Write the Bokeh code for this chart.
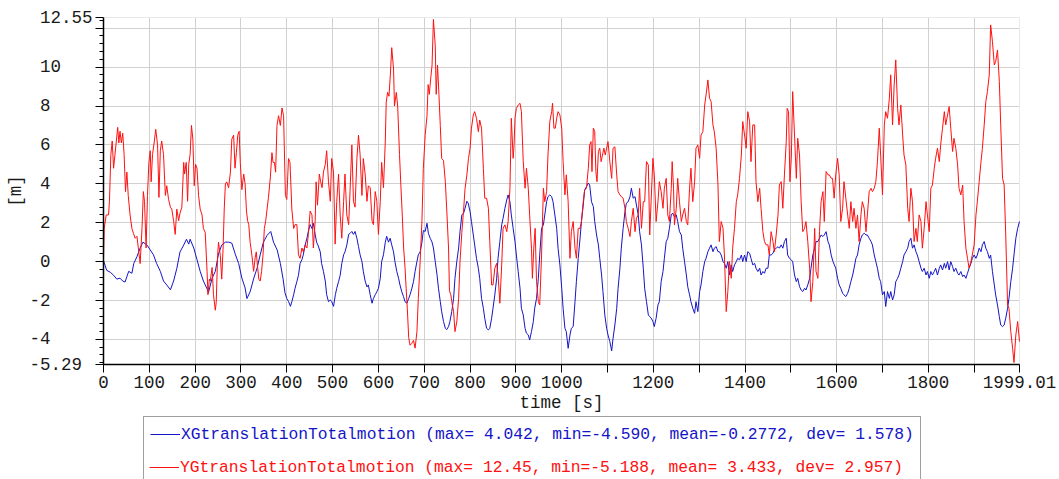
from bokeh.plotting import figure
from bokeh.models import Range1d, FixedTicker, Legend, LegendItem, BoxAnnotation
from bokeh.embed import file_html
from bokeh.resources import INLINE

# ---------------- data ----------------
x_time = [0, 7, 15, 22, 29, 36, 42, 47, 55, 62, 66, 73, 80, 86, 95, 102, 109, 116, 124, 131, 138, 146, 153, 160,
          167, 175, 181, 186, 189, 197, 204, 211, 218, 226, 229, 237, 244, 251, 258, 266, 273, 280, 288, 295,
          302, 309, 313, 320, 328, 335, 342, 349, 357, 365, 371, 379, 386, 392, 396,
          400, 404, 408, 411, 415, 418, 422, 425.5, 429, 433, 436, 440, 444, 447, 451, 455, 458, 462, 465, 468,
          473, 476, 480, 484, 487, 491, 495, 498, 502, 506, 509, 513, 516.5, 520, 524, 527, 531, 535, 538, 542,
          545.5, 549, 553, 556.5, 560, 564, 567, 571, 575, 578, 582, 586, 589, 593, 596.5, 600, 604, 607, 611,
          615, 618, 622, 625.6, 629, 633, 636, 640, 644, 647, 651, 654.7, 658, 662, 666, 669, 673, 676.5, 680,
          684, 687, 691, 695, 698, 702, 706, 709, 713, 717, 720, 724, 728, 731, 735, 738, 742, 746, 749, 753,
          756, 760, 764, 767, 771, 775, 778, 782, 786, 789, 793,
          796, 800, 803, 807, 810, 814, 818, 821, 825, 829, 832, 836, 840, 843, 847, 850, 854, 858, 861, 865,
          869, 872, 876, 880, 883, 887, 890, 894, 898, 901, 905, 909, 912, 916, 920, 923, 927, 930, 934, 938,
          941, 945, 949, 952, 956, 960, 963, 967, 970, 974, 978, 981, 985, 989, 992, 996, 1000, 1003, 1007,
          1010, 1014, 1018, 1021, 1025, 1029, 1032, 1036, 1040, 1043, 1047, 1050, 1054, 1058, 1061, 1065, 1069,
          1072, 1076, 1080, 1083, 1087, 1090, 1094, 1098, 1101, 1105, 1109, 1112, 1116, 1120, 1123, 1127, 1130,
          1134, 1138, 1141, 1145, 1149, 1152, 1156, 1160, 1163, 1167, 1170, 1174, 1178, 1181, 1185, 1189,
          1192, 1195, 1199, 1202, 1206, 1210, 1213, 1217, 1221, 1224, 1228, 1231.5, 1235, 1239, 1242, 1246,
          1250, 1253, 1257, 1261, 1264, 1268, 1272, 1275, 1279, 1282, 1286, 1290, 1293, 1297, 1301, 1304,
          1308, 1312, 1315, 1319, 1322.5, 1326, 1330, 1333, 1337, 1341, 1344, 1348, 1352, 1355, 1359, 1362.5,
          1366, 1370, 1373, 1377, 1381, 1384, 1388, 1392, 1395, 1399, 1402.5, 1406, 1410, 1413, 1417, 1421,
          1424, 1428, 1432, 1435, 1439, 1442.5, 1446, 1450, 1453, 1457, 1461, 1464, 1468, 1472, 1475, 1479,
          1482.5, 1486, 1490, 1493, 1497, 1501, 1504, 1508, 1512, 1515, 1519, 1522.5, 1526, 1530, 1533, 1537,
          1541, 1544, 1548, 1552, 1555, 1559, 1562.5, 1566, 1570, 1573, 1577, 1581, 1584, 1588, 1592, 1595,
          1598, 1602, 1605.5, 1609, 1613, 1616, 1620, 1624, 1627.5, 1631, 1635, 1638, 1642, 1645.5, 1649,
          1653, 1656, 1660, 1664, 1667, 1671, 1675, 1678, 1682, 1685.5, 1689, 1693, 1696, 1700, 1704, 1707,
          1711, 1715, 1718, 1722, 1725.5, 1729, 1733, 1736, 1740, 1744, 1747, 1751, 1755, 1758, 1762, 1765.5,
          1769, 1773, 1776, 1780, 1784, 1787, 1791, 1795, 1798, 1802, 1805.5, 1809, 1813, 1816, 1820, 1824,
          1827, 1831, 1835, 1838, 1842, 1845.5, 1849, 1853, 1856, 1860, 1864, 1867, 1871, 1875, 1878, 1882,
          1885.5, 1889, 1893, 1896, 1900, 1904, 1907, 1911, 1915, 1918, 1922, 1925.5, 1929, 1933, 1936, 1940,
          1944, 1947, 1951, 1955, 1958, 1962, 1965.5, 1969, 1973, 1976, 1980, 1984, 1987, 1991, 1995, 1999]
x_motion = [0.05, -0.45, -0.55, -0.7, -0.9, -0.85, -1.0, -1.05, -0.5, -0.6, -0.1, 0.25, 0.7, 1.0, 0.85, 0.6, 0.35,
            -0.1, -0.5, -1.0, -1.2, -1.45, -1.0, -0.35, 0.5, 0.85, 1.15, 0.9, 1.15, 0.7, 0.1, -0.5, -1.0, -1.4,
            -1.6, -0.85, -0.5, 0.4, 0.85, 1.0, 1.0, 0.95, 0.35, -0.1, -0.85, -1.35, -1.9, -1.55, -0.85, -0.35,
            0.35, 1.0, 1.35, 1.55, 1.0, 0.6, -0.1, -0.9, -1.6,
            -1.9, -2.06, -2.3, -2.06, -1.7, -1.37, -1.03, -0.7, -0.1, 0.1, 0.35, 0.85, 1.2, 1.55, 1.9, 1.7, 1.97,
            1.4, 1.0, 0.85, 0.5, -0.1, -0.5, -1.0, -1.7, -2.06, -1.97, -2.06, -2.3, -1.7, -1.37, -1.03, -0.7,
            -0.1, 0.35, 0.5, 0.85, 1.4, 1.45, 1.55, 1.4, 1.55, 1.2, 0.77, 0.35, 0.0, -0.5, -1.0, -1.3, -1.2,
            -1.7, -2.14, -1.9, -1.7, -1.55, -1.37, -0.86, 0.0, 0.35, 1.0, 1.3, 1.0, 1.2, 0.86, 0.5, 0.0, -0.5,
            -0.86, -1.2, -1.55, -1.8, -2.06, -2.14, -1.9, -1.7, -1.37, -1.03, -0.5, 0.0, 0.35, 0.5, 1.0, 1.6,
            1.55, 1.97, 1.46, 1.2, 1.0, 0.7, 0.0, -0.7, -1.37, -2.06, -2.57, -3.08, -3.43, -3.5, -3.34, -3.08,
            -2.57, -1.9, -0.86, 0.0, 0.7, 1.54, 2.4, 2.5, 2.74, 3.1,
            3.0, 2.57, 2.06, 1.37, 0.86, 0.17, -0.34, -0.86, -1.89, -2.4, -2.91, -3.43, -3.51, -3.43, -2.91,
            -2.4, -1.71, -0.86, 0.17, 1.03, 1.89, 2.23, 2.74, 3.17, 3.43, 3.08, 2.4, 1.71, 1.03, 0.34, -0.51,
            -1.37, -2.4, -2.74, -3.43, -3.68, -3.77, -4.03, -3.6, -3.08, -2.4, -1.89, -0.86, 0.34, 1.71, 1.89,
            2.4, 3.08, 3.34, 3.43, 3.34, 3.08, 2.4, 1.71, 0.69, -0.17, -1.37, -2.4, -3.43, -3.6, -4.46, -3.77,
            -3.43, -3.34, -2.06, -1.03, 0.17, 1.2, 2.06, 2.91, 3.68, 3.85, 4.04, 3.94, 3.08, 2.83, 2.06, 1.37,
            0.86, 0.17, -0.69, -1.54, -2.74, -3.43, -3.77, -4.11, -4.59, -3.94, -3.26, -2.4, -1.37, -0.34, 0.69,
            1.71, 2.57, 3.0, 3.08, 3.34, 3.77, 3.26, 3.34, 2.91, 2.4, 1.54, 0.86, -0.34, -1.37, -2.06, -2.74,
            -2.83, -2.9, -3.08, -3.34, -2.91, -2.23, -2.06, -1.03, -0.51, 0.17, 1.03, 1.2, 1.71, 2.4, 2.49, 2.31,
            2.4, 2.06, 1.54, 1.37, 0.69, 0.0, -0.69, -1.29, -1.71, -2.06, -2.4, -2.66, -2.06, -2.57, -1.54, -1.2,
            -0.51, 0.0, 0.17, 0.51, 0.69, 0.86, 0.51, 0.69, 0.77, 0.51, 0.51, 0.34, 0.0, -0.09, -0.34, 0.0,
            -0.69, -0.17, -0.51, -0.17, 0.0, 0.17, 0.09, 0.34, 0.0, 0.34, 0.0, 0.51, 0.43, 0.17, -0.17, -0.09,
            -0.34, -0.51, -0.34, -0.69, -0.51, -0.6, -0.34, -0.34, 0.34, 0.34, 0.43, 0.6, 0.69, 0.77, 0.69, 0.86,
            0.69, 1.03, 1.2, 0.34, 0.17, 0.09, 0.0, -0.69, -1.03, -0.86, -1.29, -1.46, -1.54, -1.37, -1.46, -1.2,
            -0.86, -0.34, 0.34, 0.69, 1.03, 1.03, 1.2, 1.37, 1.29, 1.37, 1.54, 1.03, 0.86, 0.34, 0.0, -0.17,
            -0.34, -0.86, -1.2, -1.37, -1.63, -1.71, -1.8, -1.63, -1.37, -1.03, -0.69, -0.34, 0.17, 0.34, 0.86,
            1.2, 1.37, 1.46, 1.37, 1.37, 1.2, 1.03, 0.86, 0.34, 0.0, -0.34, -0.86, -1.03, -1.71, -1.54, -2.31,
            -1.54, -1.89, -1.54, -1.97, -1.71, -1.03, -0.86, -0.69, -0.34, 0.0, 0.34, 0.51, 0.69, 1.03, 1.2,
            0.69, 0.86, 0.51, 0.34, 0.0, -0.34, -0.51, -0.34, -0.69, -0.51, -0.86, -0.51, -0.69, -0.51, -0.34,
            -0.69, -0.34, -0.17, -0.43, -0.09, -0.34, 0.0, -0.43, 0.0, -0.26, -0.51, -0.34, -0.6, -0.69, -0.51,
            -0.77, -0.69, -0.86, -0.6, -0.34, -0.09, 0.17, 0.34, 0.17, 0.34, 0.69, 0.51, 0.86, 1.03, 0.69, 0.51,
            0.17, 0.34, -0.51, -1.2, -1.71, -2.23, -2.83, -3.26, -3.34, -3.26, -2.91, -2.4, -1.89, -1.03, -0.34,
            0.34, 1.2, 1.71, 2.06]

y_time = [0, 1.5, 6, 11, 13, 16, 19, 22, 25, 28, 31, 33.5, 36, 39, 42, 45, 48, 51, 54, 58, 62, 65.5, 69, 73, 76,
          80, 84, 87, 89.5, 93, 96, 99, 102, 104, 107, 111, 114, 118, 121, 124, 127, 131, 135, 138, 142, 146,
          149, 153, 156.5, 160, 164, 167, 171, 175, 177, 180.5, 183.5, 186, 189, 192, 195, 198, 201, 204, 207.5,
          211, 215, 218, 222, 226, 228, 231, 233, 237, 240, 244, 246, 249, 251, 255, 258, 261, 263.5, 266, 269,
          273, 277, 280, 284, 287, 290, 293, 296, 298.5, 302, 306, 309, 312, 314.5, 317, 320, 324, 327.6, 331,
          333.4, 336, 339, 342, 345, 348, 351, 354, 357, 360, 364, 367.6, 370, 373, 375.6, 378.6, 382, 386,
          389.5, 393, 397,
          400, 403.7, 407, 411, 415, 418, 422, 425.5, 429, 433, 436, 440, 444, 447, 451, 455, 458, 462, 464,
          467, 471, 474, 477, 480, 484, 487, 491, 495, 498, 502, 505.5, 509, 513, 516.5, 520, 524, 527, 531,
          535, 538, 542, 545.5, 549, 553, 556.5, 560, 564, 567, 571, 575, 578, 582, 586, 589, 593, 596.5, 600,
          604, 607, 611, 615, 617, 620, 623, 626, 629, 633, 635, 639, 642, 646, 649, 652, 655, 658, 660.5, 663,
          666, 669, 673, 676.5, 680, 684, 687, 691, 695, 698, 702, 706, 708.5, 711, 714, 717, 720, 724, 726,
          729, 732, 735, 738, 742, 746, 749, 753, 755, 758, 761, 764, 767, 771, 775, 778, 782, 786, 789, 793,
          796.5,
          800, 803, 807, 810, 814, 818, 821, 825, 829, 832, 836, 840, 843, 847, 850, 854, 858, 861, 865, 869,
          872, 876, 880, 883, 887, 890, 894, 896, 898, 901, 905, 909, 912, 916, 920, 923, 927, 930, 934, 936,
          939, 942, 945, 949, 952, 956, 960, 963, 967, 970, 974, 978, 980, 983, 986, 989, 992, 996, 1000, 1003,
          1007, 1010, 1014, 1018, 1021, 1025, 1029, 1032, 1036, 1040, 1043, 1047, 1050, 1054, 1058, 1061, 1064,
          1066, 1069, 1072, 1074.5, 1077, 1080, 1083, 1086, 1089, 1092, 1095, 1098, 1101, 1105, 1109, 1112,
          1116, 1120, 1123, 1127, 1130, 1134, 1138, 1141, 1145, 1149, 1152, 1156, 1160, 1163, 1167, 1170, 1174,
          1178, 1181, 1185, 1189,
          1192, 1195, 1199, 1202, 1206, 1210, 1213, 1217, 1221, 1224, 1228, 1231.5, 1235, 1239, 1241, 1244,
          1246, 1250, 1253, 1257, 1261, 1264, 1268, 1272, 1275, 1279, 1282, 1286, 1290, 1293, 1297, 1301, 1304,
          1308, 1312, 1315, 1319, 1322.5, 1326, 1330, 1333, 1337, 1341, 1344, 1348, 1352, 1355, 1359, 1362.5,
          1366, 1370, 1373, 1377, 1381, 1384, 1388, 1392, 1395, 1399, 1402.5, 1406, 1410, 1413, 1417, 1421,
          1424, 1428, 1432, 1435, 1439, 1442.5, 1446, 1450, 1453, 1457, 1461, 1464, 1468, 1472, 1475, 1479,
          1482.5, 1486, 1490, 1492, 1495, 1498, 1501, 1504, 1508, 1512, 1515, 1519, 1522.5, 1526, 1530, 1533,
          1537, 1541, 1544, 1548, 1552, 1555, 1559, 1562.5, 1566, 1570, 1573, 1577, 1581, 1584, 1588,
          1591, 1594.5, 1598, 1602, 1605.5, 1609, 1613, 1616, 1620, 1624, 1627.5, 1631, 1635, 1638, 1642,
          1645.5, 1649, 1653, 1656, 1660, 1664, 1667, 1671, 1675, 1678, 1682, 1685.5, 1689, 1693, 1696, 1700,
          1704, 1707, 1711, 1715, 1718, 1722, 1725.5, 1729, 1733, 1736, 1740, 1744, 1747, 1751, 1755, 1758,
          1762, 1765.5, 1769, 1773, 1776, 1780, 1784, 1787, 1791, 1795, 1798, 1802, 1805.5, 1809, 1813, 1816,
          1820, 1824, 1827, 1831, 1835, 1838, 1842, 1845.5, 1849, 1853, 1856, 1860, 1864, 1867, 1871, 1875,
          1878, 1882, 1885.5, 1889, 1893, 1896, 1900, 1904, 1907, 1911, 1915, 1918, 1922, 1925.5, 1929, 1933,
          1936, 1940, 1944, 1947, 1951, 1955, 1958, 1962, 1965.5, 1969, 1973, 1976, 1980, 1984, 1987, 1991,
          1995, 1999]
y_motion = [0.2, 1.7, 2.4, 2.4, 3.1, 5.5, 6.2, 4.8, 5.5, 6.2, 6.9, 6.1, 6.7, 6.1, 6.6, 5.5, 3.6, 4.6, 3.4, 2.4,
            1.7, 1.45, 1.2, 1.3, 0.7, -0.1, 1.7, 3.6, 3.1, 0.7, 3.4, 5.1, 5.7, 4.1, 5.5, 6.2, 6.8, 6.0, 3.3, 5.7,
            6.2, 5.5, 3.4, 3.9, 3.2, 2.8, 2.7, 2.1, 1.4, 2.7, 2.1, 2.5, 2.8, 5.1, 4.5, 5.1, 3.1, 5.0, 5.5, 7.0,
            6.3, 3.9, 5.0, 4.8, 3.4, 2.7, 2.4, 1.7, 1.5, -0.5, -1.7, -0.9, -1.0, -0.3, -1.7, -2.5, -2.1, 0.3, 1.0,
            0.3, -0.9, 0.7, 2.7, 4.0, 4.1, 3.8, 4.6, 6.3, 6.5, 4.8, 5.6, 6.5, 6.7, 5.1, 3.7, 4.5, 4.0, 2.6, 2.1,
            1.9, 1.0, 0.3, -0.5, 0.2, 0.5, -0.2, -0.9, -1.0, -0.5, 0.3, 1.7, 2.1, 2.7, 3.3, 4.3, 5.6, 5.1, 5.1,
            4.6, 7.0, 7.5, 7.0, 7.9, 7.5, 3.4,
            3.2, 5.3, 5.1, 2.7, 1.7, 1.9, 1.9, 0.35, 0.17, 0.7, 0.5, 0.85, 0.7, 1.4, 2.6, 2.4, 0.7, 2.1, 4.1,
            2.9, 4.5, 4.1, 3.8, 4.6, 5.0, 5.7, 4.1, 3.1, 5.3, 4.6, 0.9, 3.1, 4.5, 2.4, 1.2, 3.1, 4.5, 2.4, 1.9,
            3.6, 6.0, 3.1, 2.8, 5.3, 6.5, 5.5, 3.4, 5.3, 4.5, 3.1, 3.9, 3.8, 2.1, 1.9, 3.6, 3.1, 1.4, 3.1, 5.1,
            3.8, 6.2, 8.2, 8.7, 8.5, 9.6, 11.0, 9.9, 8.0, 8.7, 8.0, 5.5, 3.9, 2.4, 0.7, -0.3, -1.4, -2.4, -3.9,
            -4.3, -4.2, -4.05, -4.45, -3.6, -1.9, 0.0, 2.1, 4.8, 6.5, 7.5, 9.1, 8.6, 9.4, 10.1, 12.45, 11.1, 8.6,
            10.1, 8.6, 7.0, 5.3, 5.2, 4.1, 2.7, 0.7, -1.5, -1.7, -2.2, -2.55, -3.6, -3.1, -1.9, 0.0, 1.5, 2.7,
            3.75, 4.45, 5.3,
            5.83, 6.86, 7.54, 7.71, 7.37, 6.68, 7.28, 6.86, 4.8, 3.26, 3.26, 2.74, 1.03, -1.2, -1.2, -0.34,
            -0.09, -0.69, -2.14, -0.17, 1.71, 1.89, 1.54, 2.06, 3.77, 7.37, 5.31, 6.0, 7.37, 7.88, 8.05, 8.14,
            7.71, 5.14, 3.77, 4.8, 3.77, 2.4, 0.69, -0.86, 0.69, 1.71, -1.03, -2.06, -2.23, 0.34, 3.77, 3.08,
            3.6, 5.48, 7.2, 7.71, 8.14, 6.86, 6.86, 7.37, 7.71, 7.54, 6.86, 5.14, 3.43, 4.46, 3.08, 0.17, 1.54,
            2.06, 0.69, 0.17, 1.71, 1.71, 2.06, 3.08, 3.68, 3.77, 4.8, 6.0, 6.17, 4.63, 6.86, 6.68, 4.63, 4.11,
            5.66, 5.83, 5.14, 5.48, 5.83, 5.48, 5.83, 6.17, 5.14, 4.28, 5.83, 5.9, 4.46, 3.6, 3.43, 3.34, 3.26,
            2.74, 2.06, 1.71, 1.29, 2.06, 2.74, 1.54, 2.23, 2.4, 3.77, 1.71, 3.08, 3.08, 5.14, 4.97,
            1.37, 3.08, 5.31, 4.46, 2.06, 3.08, 4.11, 3.6, 2.74, 3.77, 4.28, 2.4, 2.06, 3.77, 5.14, 3.77, 1.89,
            2.74, 4.28, 3.08, 2.06, 2.4, 2.74, 2.06, 1.89, 3.77, 4.8, 3.08, 4.11, 5.83, 6.0, 5.31, 6.51, 6.68,
            8.05, 8.57, 9.34, 8.4, 8.23, 7.03, 6.68, 5.83, 3.94, 1.03, 2.06, 1.71, 0.34, -2.57, -1.54, 0.0, -0.86,
            0.69, 1.71, 3.08, 3.43, 4.28, 5.48, 7.2, 6.51, 5.83, 7.71, 7.2, 5.14, 7.03, 7.03, 4.11, 3.08, 3.77,
            2.74, 1.54, 1.03, 0.86, 0.86, 0.34, 1.54, 1.03, 0.51, 1.37, 2.4, 3.94, 4.11, 2.74, 4.46, 6.17, 7.88,
            7.71, 4.11, 5.31, 8.74, 6.51, 4.28, 6.34, 5.48, 3.08, 1.54, 1.71, 2.06, 1.03, -0.34, -2.06, -1.03,
            1.71, -0.51, -0.86, 1.54, 3.08, 3.6, 2.06, 4.63, 4.46, 4.46, 4.28,
            4.28, 3.26, 4.46, 5.31, 4.46, 2.06, 2.74, 4.11, 3.26, 2.4, 1.71, 3.08, 2.06, 2.74, 1.71, 2.4, 1.03,
            2.4, 3.08, 2.74, 1.54, 2.4, 3.6, 3.77, 3.6, 3.77, 4.11, 5.14, 6.86, 5.48, 3.43, 7.03, 7.71, 7.37,
            8.4, 9.6, 7.03, 9.08, 10.37, 7.88, 7.03, 8.05, 6.51, 5.48, 4.97, 2.74, 2.06, 3.77, 3.08, 1.03, 1.71,
            1.03, 2.4, 2.06, 0.69, 1.71, 3.08, 2.4, 1.54, 3.77, 3.94, 4.8, 5.31, 5.83, 5.14, 6.0, 6.86, 7.71,
            7.03, 7.54, 7.97, 6.86, 5.66, 6.34, 5.83, 4.97, 3.77, 3.43, 3.94, 2.06, 0.69, 0.17, -0.34, 0.0, 0.34,
            0.86, 2.4, 3.08, 4.11, 5.14, 5.83, 7.03, 8.23, 8.74, 9.6, 12.17, 11.31, 10.11, 10.28, 10.88, 9.25,
            7.03, 4.28, 3.94, 1.37, -2.23, -2.4, -3.6, -4.46, -5.19, -3.77, -3.08, -4.11]

x_label = "XGtranslationTotalmotion (max= 4.042, min=-4.590, mean=-0.2772, dev= 1.578)"
y_label = "YGtranslationTotalmotion (max= 12.45, min=-5.188, mean= 3.433, dev= 2.957)"

time_limits = (0, 1999.01)
value_limits = (-5.29, 12.55)
xtick_values = [0, 100, 200, 300, 400, 500, 600, 700, 800, 900, 1000, 1100, 1200, 1300, 1400, 1500,
                1600, 1700, 1800, 1900, 1999.01]
xtick_labels = ["0", "100", "200", "300", "400", "500", "600", "700", "800", "900", "1000", "",
                "1200", "", "1400", "", "1600", "", "1800", "", "1999.01"]
ytick_values = [-5.29, -4, -2, 0, 2, 4, 6, 8, 10, 12, 12.55]
ytick_labels = ["-5.29", "-4", "-2", "0", "2", "4", "6", "8", "10", "", "12.55"]

# ---------------- layout / styling ----------------
FONT = "Liberation Mono"
BLUE = "#1414c8"
RED = "#ff1010"
NB = "\u00a0"
W, H = 1059, 479
TOP, BOTTOM = 17, 364        # pixel rows of the value limits
LEFT, RIGHT = 103, 1019      # pixel columns of the time limits

# The frame fills the whole canvas (so axis labels and legend are never clipped);
# the ranges are widened so the data area sits at the pixel box above, and
# both axes are pinned to the data-area edges.
tspan = time_limits[1] - time_limits[0]
vspan = value_limits[1] - value_limits[0]
t_per_px = tspan / (RIGHT - LEFT)
v_per_px = vspan / (BOTTOM - TOP)
x_lo = time_limits[0] - LEFT * t_per_px
x_hi = time_limits[1] + (W - RIGHT) * t_per_px
y_lo = value_limits[0] - (H - BOTTOM) * v_per_px
y_hi = value_limits[1] + TOP * v_per_px


def pad_y(lbl):
    if lbl == "":
        return ""
    s = lbl if lbl.startswith("-") else NB + lbl
    return s + NB * (6 - len(s))


p = figure(width=W, height=H, output_backend="svg", toolbar_location=None,
           x_range=Range1d(x_lo, x_hi), y_range=Range1d(y_lo, y_hi),
           min_border_left=0, min_border_right=0, min_border_top=0, min_border_bottom=0)
p.outline_line_color = None
p.background_fill_color = "white"
p.border_fill_color = "white"

xticker = FixedTicker(ticks=xtick_values, minor_ticks=[])
yminor = [round(-5.2 + 0.4 * k, 2) for k in range(45)]
yticker = FixedTicker(ticks=ytick_values, minor_ticks=yminor)
p.xaxis.ticker = xticker
p.yaxis.ticker = yticker
p.xgrid.ticker = xticker
p.ygrid.ticker = yticker
p.xaxis.major_label_overrides = {v: l for v, l in zip(xtick_values, xtick_labels)}
p.yaxis.major_label_overrides = {v: pad_y(l) for v, l in zip(ytick_values, ytick_labels)}
p.xaxis.bounds = time_limits
p.yaxis.bounds = value_limits
p.xaxis.fixed_location = value_limits[0]
p.yaxis.fixed_location = time_limits[0]

for g in (p.xgrid, p.ygrid):
    g.grid_line_color = "#d0d0d0"
    g.grid_line_width = 1

# keep grid lines inside the data area
for kw in (dict(top=value_limits[0]), dict(bottom=value_limits[1]),
           dict(right=time_limits[0]), dict(left=time_limits[1])):
    p.add_layout(BoxAnnotation(fill_color="white", fill_alpha=1, line_color=None, level="underlay", **kw))

for ax in (p.xaxis, p.yaxis):
    ax.axis_line_color = "black"
    ax.axis_line_width = 1.5
    ax.major_tick_line_color = "black"
    ax.minor_tick_line_color = "black"
    ax.major_tick_in = 0
    ax.minor_tick_in = 0
    ax.major_label_text_font = FONT
    ax.major_label_text_font_size = "17.5px"
    ax.major_label_text_color = "#1a1a1a"
    ax.axis_label_text_font = FONT
    ax.axis_label_text_font_size = "17.5px"
    ax.axis_label_text_font_style = "normal"
    ax.axis_label_text_color = "#1a1a1a"

p.xaxis.major_tick_out = 8
p.xaxis.minor_tick_out = 0
p.xaxis.major_label_standoff = 3
p.xaxis.axis_label = "time [s]"
p.xaxis.axis_label_standoff = 2

p.yaxis.major_tick_out = 8
p.yaxis.minor_tick_out = 4
p.yaxis.major_label_standoff = 3
p.yaxis.axis_label = "[m]"
p.yaxis.axis_label_standoff = 0

rx = p.line(x_time, x_motion, line_color=BLUE, line_width=1)
ry = p.line(y_time, y_motion, line_color=RED, line_width=1)

common = dict(glyph_width=30, glyph_height=22, label_height=22, label_standoff=1, spacing=10,
              margin=0, label_text_font=FONT, label_text_font_size="16.3px")
leg_a = Legend(items=[LegendItem(label=x_label, renderers=[rx]), LegendItem(label=y_label, renderers=[ry])],
               location=(143, -5), padding=6, border_line_color="#404040", border_line_width=1,
               background_fill_color="white", background_fill_alpha=1, label_text_color=BLUE, **common)
leg_b = Legend(items=[LegendItem(label=y_label, renderers=[ry])],
               location=(149, 1), padding=0, border_line_color=None,
               background_fill_color="white", background_fill_alpha=1, label_text_color=RED, **common)
p.add_layout(leg_a)
p.add_layout(leg_b)

open("out.html", "w").write(file_html(p, INLINE))
